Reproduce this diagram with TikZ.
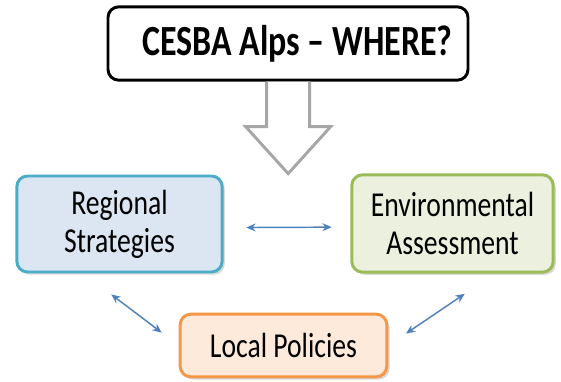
\documentclass[tikz,border=0pt]{standalone}
\usepackage{fontspec}
\setmainfont[FakeStretch=0.79]{Carlito}
\usepackage{xcolor}
\usetikzlibrary{arrows.meta}
\usetikzlibrary{shadows}

\definecolor{regfill}{HTML}{DCE6F2}
\definecolor{regline}{HTML}{4BACC6}
\definecolor{envfill}{HTML}{EBF1DE}
\definecolor{envline}{HTML}{9BBB59}
\definecolor{locfill}{HTML}{FDEADA}
\definecolor{locline}{HTML}{F79646}
\definecolor{linkblue}{HTML}{4F81BD}

\tikzset{
	box/.style={rounded corners=8pt, line width=2.2pt, align=center,
		font=\fontsize{26.25}{28.5}\selectfont,
		drop shadow={opacity=.3, shadow xshift=2pt, shadow yshift=-2pt}},
	link/.style={<->, >={Stealth[length=7pt,width=6pt]}, linkblue, line width=1.1pt},
	hollow/.style={draw=black!35, fill=white, line width=2.2pt, line join=miter}
}

\begin{document}
\begin{tikzpicture}[x=0.75pt,y=-0.75pt]

	\useasboundingbox (0,0) rectangle (561,382);

	% Title
	\node[draw=black, fill=white, rounded corners=8pt, line width=2.2pt,
		minimum width=270pt, minimum height=55pt,
		font=\fontsize{32.25}{34}\selectfont\bfseries] (title) at (288,43.5) {\hspace*{14pt}CESBA Alps -- WHERE?};

	% big hollow arrow
	\draw[hollow] ([xshift=-16pt]title.south) -- ++(0,45) -- ++(-21,0)
		-- ++(42.5,47) -- ++(42.5,-47) -- ++(-21,0) -- ++(0,-45);

	% Boxes
	\node[box, draw=regline, fill=regfill, minimum width=154pt, minimum height=72pt]
		(reg) at (119.5,224) {Regional\\Strategies};
	\node[box, draw=envline, fill=envfill, minimum width=151pt, minimum height=73pt]
		(env) at (452.5,223.5) {Environmental\\Assessment};
	\node[box, draw=locline, fill=locfill, minimum width=155pt, minimum height=47pt]
		(loc) at (283.5,345.5) {Local Policies};

	% Arrows
	\draw[link, shorten <=17pt, shorten >=14pt] (reg.-2) -- (env.182);
	\draw[link, shorten <=26pt, shorten >=16pt] (reg.-126) -- (loc.west);
	\draw[link, shorten <=27pt, shorten >=16pt] (env.-50) -- (loc.east);

\end{tikzpicture}
\end{document}
